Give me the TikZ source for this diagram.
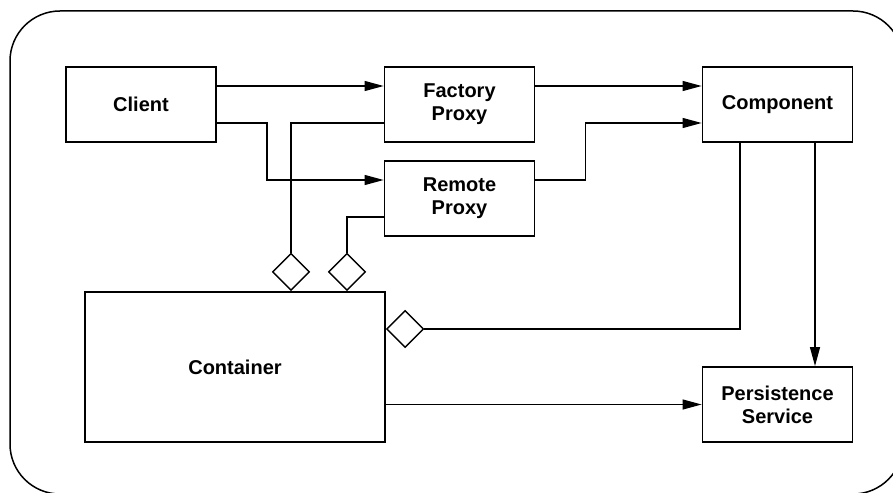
\documentclass[tikz,border=0pt]{standalone}
\usepackage{fontspec}
\setmainfont{Liberation Sans}
\usetikzlibrary{arrows.meta,shapes.geometric}

\begin{document}
\begin{tikzpicture}[x=1pt, y=-1pt,
    box/.style={draw, line width=1.8pt, minimum width=150pt, minimum height=75pt,
        inner sep=0pt, align=center, font=\bfseries\fontsize{20}{23}\selectfont},
    conn/.style={line width=1.2pt},
    arr/.style={conn, -{Triangle[length=19pt, width=10pt]}},
    agg/.style={draw, diamond, line width=1.4pt, minimum width=37pt, minimum height=37pt,
        inner sep=0pt, fill=white}]
    \useasboundingbox (0,0) rectangle (893,492);
    \draw[line width=1.5pt, rounded corners=50pt] (10,11) rectangle (903,494);

    \node[box] (client) at (141,104.5) {Client};
    \node[box] (factory) at (459.5,104.5) {Factory\\Proxy};
    \node[box] (remote) at (459.5,198.5) {Remote\\Proxy};
    \node[box] (component) at (777.5,104.5) {Component};
    \node[box, minimum width=300pt, minimum height=150pt] (container) at (235,367) {Container};
    \node[box] (persist) at (777.5,404.5) {Persistence\\Service};

    \node[agg, anchor=south] (aggf) at ([xshift=56pt]container.north) {};
    \node[agg, anchor=south] (aggr) at ([xshift=112pt]container.north) {};
    \node[agg, anchor=west] (aggc) at ([yshift=38pt]container.east) {};

    \draw[arr] ([yshift=18.5pt]client.east) -- ([yshift=18.5pt]factory.west);
    \draw[arr] ([yshift=-18.5pt]client.east) -- ++(50,0) |- ([yshift=18.5pt]remote.west);
    \draw[arr] ([yshift=18.5pt]factory.east) -- ([yshift=18.5pt]component.west);
    \draw[arr] ([yshift=18.5pt]remote.east) -- ++(50,0) |- ([yshift=-18.5pt]component.west);
    \draw[conn] ([yshift=-18.5pt]factory.west) -| (aggf.north);
    \draw[conn] ([yshift=-18.5pt]remote.west) -| (aggr.north);
    \draw[conn] ([xshift=-37.5pt]component.south) |- (aggc.east);
    \draw[arr] ([xshift=37.5pt]component.south) -- ([xshift=37.5pt]persist.north);
    \draw[arr] (container.east |- persist.west) -- (persist.west);
\end{tikzpicture}
\end{document}
